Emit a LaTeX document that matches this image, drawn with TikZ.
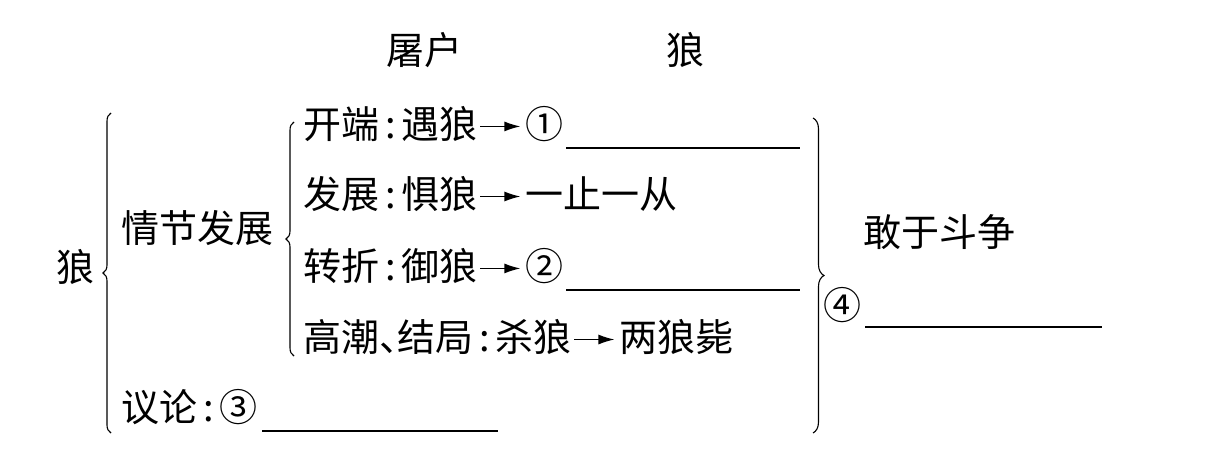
\documentclass[tikz,border=0pt]{standalone}
\usepackage{fontspec}
\setmainfont{Noto Sans CJK SC}
\usetikzlibrary{decorations.pathreplacing,arrows.meta}
\newcommand\myarr{\hspace{2pt}\tikz[x=1pt,y=1pt,baseline=0pt]{\draw[line width=1.3pt,-{Latex[length=16pt,width=10pt]}] (0,12)--(40,12);}\hspace{4pt}}
\newcommand\mycol{\hspace{6pt}:\hspace{6pt}}
\newcommand\mydun{\makebox[18pt][l]{、}}
\begin{document}
\begin{tikzpicture}[x=1pt,y=-1pt,
  txt/.style={inner sep=0pt,font=\fontsize{38}{42}\selectfont},
  row/.style={txt,anchor=west},
  blank/.style={line width=1.3pt},
  brc/.style={decorate,decoration={brace,amplitude=#1},line width=1.1pt}]
\useasboundingbox (0,0) rectangle (1205,460);
% headings
\node[txt] (tufu) at (424,50) {屠户};
\node[txt] (langtop) at (685,50) {狼};
% left
\node[txt] (lang) at (75,267) {狼};
\node[row] (qjfz) at (121,228) {情节发展};
\node[row] (yilun) at (121,407) {议论\mycol③};
% rows
\node[row] (r1) at (303,124) {开端\mycol 遇狼\myarr①};
\node[row] (r2) at (303,194) {发展\mycol 惧狼\myarr 一止一从};
\node[row] (r3) at (303,266) {转折\mycol 御狼\myarr②};
\node[row] (r4) at (303,337) {高潮\mydun 结局\mycol 杀狼\myarr 两狼毙};
% right
\node[row] (gan) at (863,232) {敢于斗争};
\node[txt] (four) at (842,305) {④};
% blanks
\coordinate (u1a) at (566,148); \coordinate (u1b) at (800,148);
\coordinate (u2a) at (566,290); \coordinate (u2b) at (800,290);
\coordinate (u3a) at (262,431); \coordinate (u3b) at (498,431);
\coordinate (u4a) at (865,327); \coordinate (u4b) at (1102,327);
\draw[blank] (u1a) -- (u1b);
\draw[blank] (u2a) -- (u2b);
\draw[blank] (u3a) -- (u3b);
\draw[blank] (u4a) -- (u4b);
% braces
\coordinate (bLb) at (111,433); \coordinate (bLt) at (111,113);
\coordinate (bIb) at (294,356); \coordinate (bIt) at (294,122);
\coordinate (bRt) at (813,118); \coordinate (bRb) at (813,433);
\draw[brc=8pt] (bLb) -- (bLt);
\draw[brc=8pt] (bIb) -- (bIt);
\draw[brc=11pt] (bRt) -- (bRb);
\end{tikzpicture}
\end{document}
